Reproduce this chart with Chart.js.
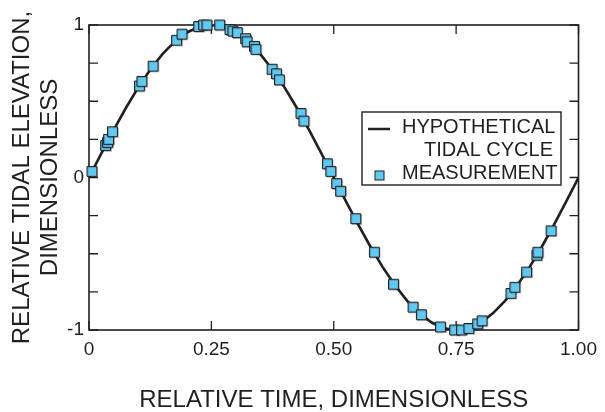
<!DOCTYPE html>
<html>
<head>
<meta charset="utf-8">
<script src="https://cdn.jsdelivr.net/npm/chart.js@4.4.1/dist/chart.umd.min.js"></script>
<style>
  html, body { margin: 0; padding: 0; background: #fff; }
  canvas { display: block; }
</style>
</head>
<body>
<canvas id="tideChart" width="605" height="412"></canvas>
<script>
// hypothetical tidal cycle, read at steps of 0.025
const curveTime = [0, 0.025, 0.05, 0.075, 0.1, 0.125, 0.15, 0.175, 0.2, 0.225,
    0.25, 0.275, 0.3, 0.325, 0.35, 0.375, 0.4, 0.425, 0.45, 0.475,
    0.5, 0.525, 0.55, 0.575, 0.6, 0.625, 0.65, 0.675, 0.7, 0.725,
    0.75, 0.775, 0.8, 0.825, 0.85, 0.875, 0.9, 0.925, 0.95, 0.975, 1];
const curveElevation = [0, 0.156, 0.309, 0.454, 0.588, 0.707, 0.809, 0.891, 0.951, 0.988,
    1, 0.988, 0.951, 0.891, 0.809, 0.707, 0.588, 0.454, 0.309, 0.156,
    0, -0.156, -0.309, -0.454, -0.588, -0.707, -0.809, -0.891, -0.951, -0.988,
    -1, -0.988, -0.951, -0.891, -0.809, -0.707, -0.588, -0.454, -0.309, -0.156, 0];

// measurements
const measTime = [0.006, 0.034, 0.038, 0.040, 0.048, 0.103, 0.108, 0.131, 0.179, 0.190,
    0.224, 0.234, 0.241, 0.267, 0.288, 0.294, 0.303, 0.320, 0.323, 0.338,
    0.341, 0.374, 0.383, 0.389, 0.433, 0.439, 0.487, 0.494, 0.506, 0.514,
    0.545, 0.583, 0.622, 0.662, 0.679, 0.718, 0.747, 0.761, 0.776, 0.794,
    0.803, 0.862, 0.870, 0.894, 0.915, 0.917, 0.944];
const measElevation = [0.04, 0.21, 0.23, 0.25, 0.30, 0.60, 0.63, 0.73, 0.90, 0.94,
    0.99, 1.00, 1.00, 1.00, 0.97, 0.96, 0.95, 0.91, 0.89, 0.86,
    0.84, 0.71, 0.68, 0.64, 0.42, 0.37, 0.09, 0.04, -0.04, -0.09,
    -0.27, -0.49, -0.70, -0.85, -0.90, -0.98, -1.00, -1.00, -0.99, -0.96,
    -0.94, -0.76, -0.72, -0.62, -0.51, -0.49, -0.35];

const xTickLabels = ['0', '0.25', '0.50', '0.75', '1.00'];
const yTickLabels = {'-1': '-1', '0': '0', '1': '1'};

const ink = '#231f20';
const fillBlue = '#62c8f0';
const fontFamily = '"Liberation Sans", Arial, Helvetica, sans-serif';

// frame and inward ticks on all four sides
const framePlugin = {
    id: 'frame',
    beforeDatasetsDraw(chart) {
        const ctx = chart.ctx;
        const a = chart.chartArea;
        const xs = chart.scales.x, ys = chart.scales.y;
        const len = 9;
        ctx.save();
        ctx.strokeStyle = ink;
        ctx.lineWidth = 1.3;
        ctx.beginPath();
        xs.ticks.forEach(t => {
            const px = xs.getPixelForValue(t.value);
            ctx.moveTo(px, a.bottom); ctx.lineTo(px, a.bottom - len);
            ctx.moveTo(px, a.top); ctx.lineTo(px, a.top + len);
        });
        ys.ticks.forEach(t => {
            const py = ys.getPixelForValue(t.value);
            ctx.moveTo(a.left, py); ctx.lineTo(a.left + len, py);
            ctx.moveTo(a.right, py); ctx.lineTo(a.right - len, py);
        });
        ctx.stroke();
        ctx.lineWidth = 1.6;
        ctx.strokeRect(a.left, a.top, a.right - a.left, a.bottom - a.top);
        ctx.restore();
    }
};

// light shadow behind the measurement squares
const shadowPlugin = {
    id: 'squareShadow',
    beforeDatasetDraw(chart, args) {
        if (args.index !== 1) return;
        const ctx = chart.ctx;
        ctx.save();
        ctx.shadowColor = 'rgba(0,0,0,0.18)';
        ctx.shadowOffsetX = 1;
        ctx.shadowOffsetY = 1;
        ctx.shadowBlur = 0.5;
    },
    afterDatasetDraw(chart, args) {
        if (args.index !== 1) return;
        chart.ctx.restore();
    }
};

// legend box inside the plot
const legendPlugin = {
    id: 'boxLegend',
    afterDraw(chart) {
        const ctx = chart.ctx;
        ctx.save();
        ctx.fillStyle = '#fff';
        ctx.fillRect(362, 112, 199, 73);
        ctx.strokeStyle = ink;
        ctx.lineWidth = 1.4;
        ctx.strokeRect(362, 112, 199, 73);

        ctx.lineWidth = 2.5;
        ctx.beginPath();
        ctx.moveTo(368, 129);
        ctx.lineTo(390, 129);
        ctx.stroke();

        ctx.fillStyle = fillBlue;
        ctx.lineWidth = 1;
        ctx.fillRect(375, 171, 9, 9);
        ctx.strokeRect(375, 171, 9, 9);

        ctx.fillStyle = ink;
        ctx.font = '20px ' + fontFamily;
        ctx.textBaseline = 'middle';
        ctx.textAlign = 'left';
        ctx.fillText('HYPOTHETICAL', 402, 127);
        ctx.textAlign = 'right';
        ctx.fillText('TIDAL CYCLE', 553, 150);
        ctx.textAlign = 'left';
        ctx.fillText('MEASUREMENT', 402, 173);
        ctx.restore();
    }
};

const ctx = document.getElementById('tideChart').getContext('2d');
new Chart(ctx, {
    type: 'scatter',
    data: {
        datasets: [{
            label: 'HYPOTHETICAL TIDAL CYCLE',
            type: 'line',
            data: curveTime.map((t, i) => ({x: t, y: curveElevation[i]})),
            borderColor: ink,
            borderWidth: 2.6,
            pointRadius: 0,
            fill: false,
            tension: 0,
            order: 2
        }, {
            label: 'MEASUREMENT',
            data: measTime.map((t, i) => ({x: t, y: measElevation[i]})),
            pointStyle: 'rect',
            pointRadius: 7,
            backgroundColor: fillBlue,
            borderColor: ink,
            borderWidth: 1,
            clip: false,
            order: 1
        }]
    },
    options: {
        responsive: false,
        animation: false,
        layout: { padding: { top: 25, right: 20, left: 0, bottom: 0 } },
        plugins: {
            legend: { display: false },
            tooltip: { enabled: false }
        },
        scales: {
            x: {
                type: 'linear',
                min: 0,
                max: 1,
                afterFit: s => { s.height = 82; },
                grid: { display: false, drawTicks: false },
                border: { display: false },
                ticks: {
                    stepSize: 0.25,
                    padding: 8,
                    color: ink,
                    maxRotation: 0,
                    font: { family: fontFamily, size: 19 },
                    callback: (v, i) => xTickLabels[i]
                },
                title: {
                    display: true,
                    text: 'RELATIVE TIME, DIMENSIONLESS',
                    color: ink,
                    padding: { top: 0, bottom: 0 },
                    font: { family: fontFamily, size: 24, lineHeight: 1.0 }
                }
            },
            y: {
                min: -1,
                max: 1,
                afterFit: s => { s.width = 89; },
                grid: { display: false, drawTicks: false },
                border: { display: false },
                ticks: {
                    stepSize: 0.25,
                    padding: 5,
                    color: ink,
                    font: { family: fontFamily, size: 19 },
                    callback: v => yTickLabels[String(v)] || ''
                },
                title: {
                    display: true,
                    text: ['RELATIVE TIDAL ELEVATION,', 'DIMENSIONLESS'],
                    color: ink,
                    padding: { top: 8, bottom: 0 },
                    font: { family: fontFamily, size: 24, lineHeight: 1.167 }
                }
            }
        }
    },
    plugins: [framePlugin, shadowPlugin, legendPlugin]
});
</script>
</body>
</html>
